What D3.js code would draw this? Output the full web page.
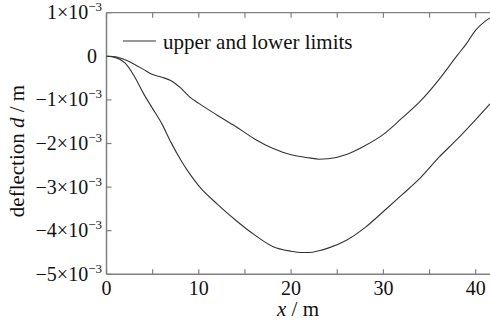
<!DOCTYPE html>
<html>
<head>
<meta charset="utf-8">
<script src="https://cdn.jsdelivr.net/npm/d3@7"></script>
<style>
  html, body { margin: 0; padding: 0; background: #fff; }
  svg { display: block; font-family: "Liberation Serif", "Times New Roman", serif; }
</style>
</head>
<body>
<svg id="chart" width="490" height="325"></svg>
<script>
// Distance along the span (m)
const upperX = [0, 1, 2, 3, 4, 5, 6, 7, 8, 9, 10, 12, 14, 16, 18, 20, 22, 23, 24, 26, 28, 30, 32, 34, 36, 38, 39, 40, 41, 41.55];
// Upper limit of deflection (×10^-3 m)
const upperY = [0, -0.01, -0.08, -0.18, -0.30, -0.42, -0.48, -0.56, -0.72, -0.93, -1.08, -1.35, -1.61, -1.89, -2.11, -2.26, -2.33, -2.36, -2.35, -2.25, -2.05, -1.79, -1.42, -1.03, -0.54, 0.02, 0.29, 0.60, 0.80, 0.88];

const lowerX = [0, 1, 2, 3, 4, 5, 6, 7, 8, 9, 10, 12, 14, 16, 18, 20, 21, 22, 23, 24, 26, 28, 30, 32, 34, 36, 38, 40, 41.55];
// Lower limit of deflection (×10^-3 m)
const lowerY = [0, -0.03, -0.15, -0.45, -0.85, -1.20, -1.55, -1.98, -2.36, -2.69, -2.97, -3.39, -3.76, -4.09, -4.36, -4.47, -4.50, -4.50, -4.46, -4.40, -4.22, -3.93, -3.56, -3.18, -2.79, -2.32, -1.90, -1.45, -1.09];

const xTicks = [0, 5, 10, 15, 20, 25, 30, 35, 40];
const xTickLabels = ["0", "10", "20", "30", "40"];
const yTicks = [1, 0, -1, -2, -3, -4, -5];   // in units of 10^-3 m

const legendLabel = "upper and lower limits";

const svg = d3.select("#chart");
const x = d3.scaleLinear().domain([0, 41.55]).range([106.5, 490]);
const y = d3.scaleLinear().domain([-5, 1]).range([274.3, 12.7]);

const axisColor = "#808080";
const tickLen = 5;

// frame: left, bottom, top lines
svg.append("line").attr("x1", x(0)).attr("x2", x(0)).attr("y1", y(1)).attr("y2", y(-5))
  .attr("stroke", axisColor).attr("stroke-width", 1.5);
svg.append("line").attr("x1", x(0)).attr("x2", 490).attr("y1", y(-5)).attr("y2", y(-5))
  .attr("stroke", axisColor).attr("stroke-width", 1.5);
svg.append("line").attr("x1", x(0)).attr("x2", 490).attr("y1", y(1)).attr("y2", y(1))
  .attr("stroke", axisColor).attr("stroke-width", 1.2);

// inward ticks on bottom and top
xTicks.forEach(t => {
  svg.append("line").attr("x1", x(t)).attr("x2", x(t)).attr("y1", y(-5)).attr("y2", y(-5) - tickLen)
    .attr("stroke", axisColor).attr("stroke-width", 1.2);
  svg.append("line").attr("x1", x(t)).attr("x2", x(t)).attr("y1", y(1)).attr("y2", y(1) + tickLen)
    .attr("stroke", axisColor).attr("stroke-width", 1.2);
});
// inward ticks on left
yTicks.forEach(t => {
  svg.append("line").attr("x1", x(0)).attr("x2", x(0) + tickLen).attr("y1", y(t)).attr("y2", y(t))
    .attr("stroke", axisColor).attr("stroke-width", 1.2);
});

// x tick labels
xTickLabels.forEach(s => {
  svg.append("text").attr("x", x(+s)).attr("y", 294.5)
    .attr("text-anchor", "middle").attr("font-size", 20).attr("fill", "#111").text(s);
});

// y tick labels with powers of ten
yTicks.forEach(t => {
  const yy = y(t) + 6.5;
  if (t === 0) {
    svg.append("text").attr("x", 97).attr("y", yy).attr("text-anchor", "end")
      .attr("font-size", 20).attr("fill", "#111").text("0");
    return;
  }
  const txt = svg.append("text").attr("x", 102).attr("y", yy).attr("text-anchor", "end")
    .attr("font-size", 20).attr("fill", "#111");
  txt.append("tspan").text((t < 0 ? "\u2212" : "") + Math.abs(t) + "\u00d710");
  txt.append("tspan").attr("dy", -8).attr("font-size", 13).text("\u22123");
});

// curves
const line = d3.line().x(d => x(d[0])).y(d => y(d[1])).curve(d3.curveMonotoneX);
const upper = upperX.map((v, i) => [v, upperY[i]]);
const lower = lowerX.map((v, i) => [v, lowerY[i]]);
[upper, lower].forEach(data => {
  svg.append("path").datum(data).attr("d", line)
    .attr("fill", "none").attr("stroke", "#333").attr("stroke-width", 1.1);
});

// legend
svg.append("line").attr("x1", 123).attr("x2", 156).attr("y1", 41).attr("y2", 41)
  .attr("stroke", "#333").attr("stroke-width", 1.1);
svg.append("text").attr("x", 163).attr("y", 48.5).attr("font-size", 21).attr("fill", "#111").text(legendLabel);

// axis titles
const xt = svg.append("text").attr("x", 298).attr("y", 315.5).attr("text-anchor", "middle")
  .attr("font-size", 21).attr("fill", "#111");
xt.append("tspan").attr("font-style", "italic").text("x");
xt.append("tspan").text(" / m");

const yt = svg.append("text").attr("transform", "translate(24,151) rotate(-90)")
  .attr("text-anchor", "middle").attr("font-size", 21).attr("fill", "#111");
yt.append("tspan").text("deflection ");
yt.append("tspan").attr("font-style", "italic").text("d");
yt.append("tspan").text(" / m");
</script>
</body>
</html>
